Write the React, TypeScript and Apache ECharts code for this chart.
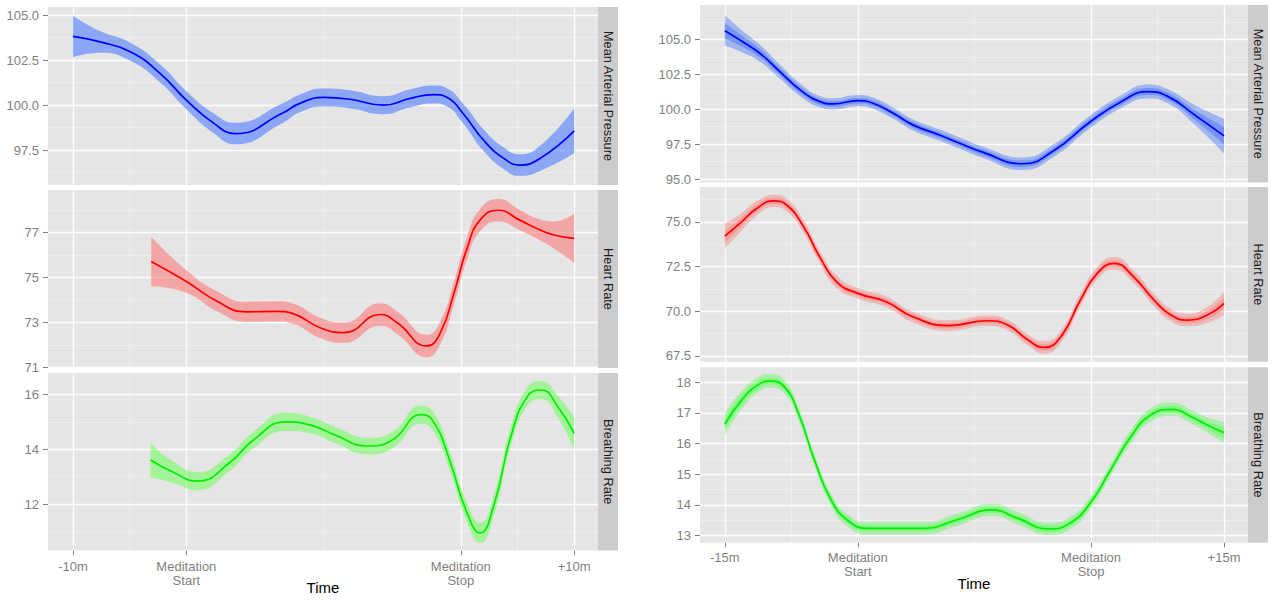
import React, { useEffect, useRef } from "react";
import * as echarts from "echarts";

// ---------- data (time in minutes relative to meditation start) ----------
const leftMapTime = [-10, -7.6, -4.9, -2.3, 0, 2.4, 4.3, 8.5, 10.0, 12.1, 14.4, 17.4, 19.7, 21.8, 23.0, 24.4, 26.2, 28.0, 29.4, 31.2, 34.2];
const leftMapMean = [103.83, 103.52, 102.96, 101.76, 100.28, 99.0, 98.42, 99.56, 100.1, 100.43, 100.33, 100.0, 100.37, 100.59, 100.43, 99.54, 98.06, 97.04, 96.67, 97.04, 98.57];
const leftMapSe = [1.15, 0.6, 0.5, 0.5, 0.5, 0.55, 0.6, 0.55, 0.5, 0.5, 0.5, 0.5, 0.5, 0.5, 0.5, 0.55, 0.6, 0.6, 0.6, 0.7, 1.25];

const leftHrTime = [-3.1, 0, 2.7, 5.3, 8.0, 9.4, 11.8, 13.9, 17.1, 18.6, 21.2, 22.4, 23.6, 24.8, 25.9, 27.5, 29.4, 30.9, 32.4, 34.2];
const leftHrMean = [75.72, 74.83, 73.95, 73.48, 73.5, 73.4, 72.77, 72.55, 73.36, 72.99, 71.96, 72.55, 74.32, 76.38, 77.56, 78.0, 77.56, 77.19, 76.9, 76.75];
const leftHrSe = [1.1, 0.5, 0.45, 0.45, 0.45, 0.45, 0.45, 0.45, 0.5, 0.5, 0.5, 0.5, 0.5, 0.5, 0.5, 0.5, 0.45, 0.45, 0.6, 1.1];

const leftBrTime = [-3.16, -1.28, 1.0, 3.76, 5.92, 8.8, 10.96, 13.12, 16.0, 18.17, 20.7, 21.8, 23.21, 24.65, 25.91, 27.17, 28.61, 30.05, 31.31, 32.76, 34.2];
const leftBrMean = [13.61, 13.19, 12.84, 13.49, 14.34, 15.0, 14.88, 14.52, 14.12, 14.34, 15.26, 15.0, 13.61, 11.79, 10.95, 12.04, 14.46, 15.91, 16.16, 15.55, 14.58];
const leftBrSe = [0.63, 0.4, 0.33, 0.3, 0.3, 0.33, 0.3, 0.3, 0.3, 0.3, 0.33, 0.35, 0.35, 0.35, 0.37, 0.37, 0.35, 0.33, 0.33, 0.4, 0.6];

const rightMapTime = [-15, -13.3, -11.05, -8.8, -6.5, -4.3, -2.8, 0, 1.7, 4.0, 6.2, 9.2, 11.5, 13.9, 18.6, 22.2, 26.0, 29.7, 32.7, 35.0, 38.0, 41.3];
const rightMapMean = [105.61, 104.95, 104.0, 102.69, 101.38, 100.54, 100.38, 100.61, 100.43, 99.71, 98.88, 98.16, 97.57, 96.97, 96.1, 97.09, 99.0, 100.54, 101.26, 100.9, 99.59, 98.09];
const rightMapSe = [1.1, 0.8, 0.6, 0.5, 0.45, 0.4, 0.4, 0.4, 0.4, 0.4, 0.4, 0.4, 0.4, 0.4, 0.45, 0.45, 0.45, 0.45, 0.5, 0.5, 0.7, 1.25];

const rightHrTime = [-15, -13.3, -11.4, -9.5, -8.0, -6.1, -4.3, -2.4, 0, 3.2, 6.2, 10.3, 14.6, 16.9, 19.2, 21.0, 22.9, 25.1, 27.0, 28.9, 31.1, 33.4, 35.3, 37.2, 39.4, 41.3];
const rightHrMean = [74.2, 74.91, 75.75, 76.17, 75.93, 74.72, 73.04, 71.65, 71.0, 70.53, 69.69, 69.2, 69.47, 69.23, 68.39, 67.98, 68.58, 70.63, 72.12, 72.68, 71.93, 70.63, 69.79, 69.51, 69.79, 70.44];
const rightHrSe = [0.7, 0.5, 0.4, 0.35, 0.35, 0.35, 0.35, 0.35, 0.3, 0.3, 0.3, 0.3, 0.3, 0.3, 0.3, 0.35, 0.35, 0.35, 0.35, 0.35, 0.35, 0.35, 0.35, 0.35, 0.45, 0.65];

const rightBrTime = [-15, -13.1, -11.3, -9.9, -8.3, -6.7, -4.9, -3.0, -1.2, 1.1, 3.8, 7.5, 11.1, 15.2, 18.0, 21.5, 23.9, 26.2, 28.5, 30.8, 33.0, 35.5, 37.6, 39.4, 41.3];
const rightBrMean = [16.64, 17.42, 17.91, 18.04, 17.86, 16.99, 15.47, 14.16, 13.51, 13.24, 13.24, 13.24, 13.51, 13.84, 13.57, 13.22, 13.4, 14.06, 15.14, 16.23, 16.93, 17.12, 16.88, 16.61, 16.36];
const rightBrSe = [0.38, 0.3, 0.25, 0.22, 0.22, 0.22, 0.2, 0.2, 0.2, 0.2, 0.2, 0.2, 0.2, 0.2, 0.2, 0.2, 0.2, 0.2, 0.2, 0.22, 0.22, 0.22, 0.22, 0.25, 0.35];

// ---------- tick labels ----------
const leftTimeTicks = [-10, 0, 24.2, 34.2];
const leftTimeLabels = ["-10m", "Meditation\nStart", "Meditation\nStop", "+10m"];
const rightTimeTicks = [-15, 0, 26.3, 41.3];
const rightTimeLabels = ["-15m", "Meditation\nStart", "Meditation\nStop", "+15m"];

const leftMapTicks = [97.5, 100, 102.5, 105];
const leftHrTicks = [71, 73, 75, 77];
const leftBrTicks = [12, 14, 16];
const rightMapTicks = [95, 97.5, 100, 102.5, 105];
const rightHrTicks = [67.5, 70, 72.5, 75];
const rightBrTicks = [13, 14, 15, 16, 17, 18];

const facetNames = ["Mean Arterial Pressure", "Heart Rate", "Breathing Rate"];
const axisTitle = "Time";

// ---------- layout / style ----------
const FONT = "'Liberation Sans', Arial, sans-serif";
const GREY_TEXT = "#7f7f7f";
const PANEL_BG = "#e5e5e5";
const STRIP_BG = "#cccccc";

const figures = [
  { left: 48, width: 550, xMin: -12.2, xMax: 36.3, ticks: leftTimeTicks, labels: leftTimeLabels, stripX: 598, titleX: 323, titleY: 587, double: false, yLabelMargin: 9, xLabelMargin: 9,
    panels: [{ top: 7, height: 178 }, { top: 190, height: 178 }, { top: 373, height: 177.5 }] },
  { left: 700, width: 548, xMin: -17.8, xMax: 44.0, ticks: rightTimeTicks, labels: rightTimeLabels, stripX: 1248, titleX: 974, titleY: 583, double: true, yLabelMargin: 9, xLabelMargin: 8,
    panels: [{ top: 5, height: 177.5 }, { top: 187, height: 174.7 }, { top: 367.3, height: 175.4 }] },
];

const panelData = [
  { fig: 0, row: 0, t: leftMapTime, m: leftMapMean, s: leftMapSe, ticks: leftMapTicks, dec: 1, yMin: 95.56, yMax: 105.46 },
  { fig: 0, row: 1, t: leftHrTime, m: leftHrMean, s: leftHrSe, ticks: leftHrTicks, dec: 0, yMin: 70.98, yMax: 78.9 },
  { fig: 0, row: 2, t: leftBrTime, m: leftBrMean, s: leftBrSe, ticks: leftBrTicks, dec: 0, yMin: 10.31, yMax: 16.78 },
  { fig: 1, row: 0, t: rightMapTime, m: rightMapMean, s: rightMapSe, ticks: rightMapTicks, dec: 1, yMin: 94.76, yMax: 107.45 },
  { fig: 1, row: 1, t: rightHrTime, m: rightHrMean, s: rightHrSe, ticks: rightHrTicks, dec: 1, yMin: 67.18, yMax: 76.95 },
  { fig: 1, row: 2, t: rightBrTime, m: rightBrMean, s: rightBrSe, ticks: rightBrTicks, dec: 0, yMin: 12.77, yMax: 18.49 },
];

const lineColors = ["#0000ff", "#ff0000", "#00ee00"];
const singleBand = [
  { color: "#4f7bff", opacity: 0.6 },
  { color: "#ff7171", opacity: 0.55 },
  { color: "#6bff5a", opacity: 0.55 },
];
const doubleBand = [
  { color: "#1f59ff", opacity: 0.35 },
  { color: "#ff6767", opacity: 0.35 },
  { color: "#3cff3c", opacity: 0.35 },
];

function minorY(ticks: number[], min: number, max: number) {
  const step = ticks[1] - ticks[0];
  const out: number[] = [];
  for (let v = ticks[0] - step / 2; v <= max + 1e-9; v += step) if (v >= min) out.push(v);
  return out;
}
function minorX(ticks: number[]) {
  const out: number[] = [];
  for (let i = 0; i < ticks.length - 1; i++) out.push((ticks[i] + ticks[i + 1]) / 2);
  return out;
}

function buildOption() {
  const grid: any[] = [];
  const xAxis: any[] = [];
  const yAxis: any[] = [];
  const series: any[] = [];
  const graphic: any[] = [];
  const n = panelData.length;

  panelData.forEach((p, i) => {
    const f = figures[p.fig];
    const pl = f.panels[p.row];
    grid.push({
      left: f.left, top: pl.top, width: f.width, height: pl.height,
      show: true, backgroundColor: PANEL_BG, borderWidth: 0, containLabel: false, outerBoundsMode: "none",
    });
    const isBottom = p.row === 2;
    const xFmt = (v: number) => {
      const k = f.ticks.findIndex((t) => Math.abs(t - v) < 1e-6);
      return k >= 0 ? f.labels[k] : "";
    };
    xAxis[i] = {
      type: "value", gridIndex: i, min: f.xMin, max: f.xMax, position: "bottom",
      axisLine: { show: false, onZero: false },
      axisTick: { show: isBottom, customValues: f.ticks, length: 4.5, lineStyle: { color: GREY_TEXT, width: 1 } },
      axisLabel: { show: isBottom, customValues: f.ticks, formatter: xFmt, color: GREY_TEXT, fontSize: 13, fontFamily: FONT, margin: f.xLabelMargin, lineHeight: 14 },
      splitLine: { show: true, showMinLine: true, showMaxLine: true, lineStyle: { color: "#ffffff", width: 1.3 } },
    };
    xAxis[n + i] = {
      type: "value", gridIndex: i, min: f.xMin, max: f.xMax, position: "top",
      axisLine: { show: false, onZero: false },
      axisTick: { show: false, customValues: minorX(f.ticks) },
      axisLabel: { show: false },
      splitLine: { show: true, lineStyle: { color: "#f2f2f2", width: 0.7 } },
    };
    yAxis[i] = {
      type: "value", gridIndex: i, min: p.yMin, max: p.yMax, position: "left",
      axisLine: { show: false, onZero: false },
      axisTick: { show: true, customValues: p.ticks, length: 5, lineStyle: { color: GREY_TEXT, width: 1 } },
      axisLabel: { show: true, customValues: p.ticks, formatter: (v: number) => v.toFixed(p.dec), color: GREY_TEXT, fontSize: 13, fontFamily: FONT, margin: f.yLabelMargin },
      splitLine: { show: true, lineStyle: { color: "#ffffff", width: 1.3 } },
    };
    yAxis[n + i] = {
      type: "value", gridIndex: i, min: p.yMin, max: p.yMax, position: "right",
      axisLine: { show: false, onZero: false },
      axisTick: { show: false, customValues: minorY(p.ticks, p.yMin, p.yMax) },
      axisLabel: { show: false },
      splitLine: { show: true, lineStyle: { color: "#f2f2f2", width: 0.7 } },
    };

    const bands = f.double
      ? [{ k: 1, st: doubleBand[p.row] }, { k: 0.5, st: doubleBand[p.row] }]
      : [{ k: 1, st: singleBand[p.row] }];
    bands.forEach((b, bi) => {
      const stack = `band_${i}_${bi}`;
      // data stored as [value, time] so that the stacked dimension is the value
      series.push({
        type: "line", xAxisIndex: i, yAxisIndex: i, stack, smooth: 0.5, symbol: "none", silent: true,
        encode: { x: 1, y: 0 },
        lineStyle: { width: 0, opacity: 0 },
        data: p.t.map((t, k) => [p.m[k] - p.s[k] * b.k, t]),
      });
      series.push({
        type: "line", xAxisIndex: i, yAxisIndex: i, stack, smooth: 0.5, symbol: "none", silent: true,
        encode: { x: 1, y: 0 },
        lineStyle: { width: 0, opacity: 0 },
        areaStyle: { color: b.st.color, opacity: b.st.opacity },
        data: p.t.map((t, k) => [2 * p.s[k] * b.k, t]),
      });
    });
    series.push({
      type: "line", xAxisIndex: i, yAxisIndex: i, smooth: 0.5, symbol: "none", silent: true, z: 4,
      lineStyle: { color: lineColors[p.row], width: 1.7 },
      data: p.t.map((t, k) => [t, p.m[k]]),
    });

    // facet strip
    graphic.push({
      type: "rect", silent: true,
      shape: { x: f.stripX, y: pl.top, width: 20, height: pl.height },
      style: { fill: STRIP_BG },
    });
    graphic.push({
      type: "text", silent: true,
      x: f.stripX + 10, y: pl.top + pl.height / 2, rotation: -Math.PI / 2,
      style: {
        text: facetNames[p.row], fill: "#1a1a1a", font: `12.8px ${FONT}`,
        textAlign: "center", textVerticalAlign: "middle", align: "center", verticalAlign: "middle",
      },
    });
  });

  figures.forEach((f) => {
    graphic.push({
      type: "text", silent: true, x: f.titleX, y: f.titleY,
      style: {
        text: axisTitle, fill: "#000000", font: `15px ${FONT}`,
        textAlign: "center", textVerticalAlign: "middle", align: "center", verticalAlign: "middle",
      },
    });
  });

  return { animation: false, backgroundColor: "#ffffff", grid, xAxis, yAxis, series, graphic };
}

export default function App() {
  const ref = useRef<HTMLDivElement>(null);
  useEffect(() => {
    document.body.style.margin = "0";
    const chart = echarts.init(ref.current as HTMLDivElement, null, { renderer: "svg" });
    chart.setOption(buildOption() as any);
    return () => chart.dispose();
  }, []);
  return <div ref={ref} style={{ width: 1275, height: 600 }} />;
}
